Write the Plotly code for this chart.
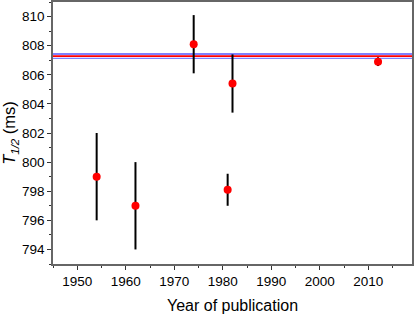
import plotly.graph_objects as go

years = [1954, 1962, 1974, 1981, 1982, 2012]
half_life = [799.0, 797.0, 808.1, 798.1, 805.4, 806.9]
errors = [3.0, 3.0, 2.0, 1.1, 2.0, 0.3]

mean_value = 807.28
band_upper = 807.43
band_lower = 807.13
x_span = [1945, 2019]

fig = go.Figure()

fig.add_trace(go.Scatter(x=x_span, y=[band_upper, band_upper], mode='lines',
                         line=dict(color='#7f7fff', width=2), hoverinfo='skip'))
fig.add_trace(go.Scatter(x=x_span, y=[band_lower, band_lower], mode='lines',
                         line=dict(color='#7f7fff', width=1.2), hoverinfo='skip'))
fig.add_trace(go.Scatter(x=x_span, y=[mean_value, mean_value], mode='lines',
                         line=dict(color='red', width=1.6), hoverinfo='skip'))

fig.add_trace(go.Scatter(
    x=years,
    y=half_life,
    mode='markers',
    marker=dict(color='red', size=8),
    error_y=dict(type='data', array=errors, color='black', thickness=2, width=0)
))

axis_style = dict(
    showline=True, linecolor='#666666', linewidth=1.5, mirror=True,
    ticks='outside', ticklen=4, tickcolor='#333333', tickwidth=1,
    showgrid=False, zeroline=False, automargin=False,
    tickfont=dict(family='Liberation Sans, Arial', size=13.5, color='black'),
)

fig.update_layout(
    width=415, height=314,
    margin=dict(l=53, r=3, t=2, b=50),
    plot_bgcolor='white',
    paper_bgcolor='white',
    showlegend=False,
    xaxis=dict(range=x_span, dtick=10, tick0=1950,
               minor=dict(ticks='outside', dtick=5, ticklen=2.5, tickcolor='#333333'),
               title=dict(text='Year of publication', standoff=12,
                          font=dict(family='Liberation Sans, Arial', size=16, color='black')),
               **axis_style),
    yaxis=dict(range=[793, 811], dtick=2, tick0=794,
               minor=dict(ticks='outside', dtick=1, ticklen=2.5, tickcolor='#333333'),
               title=dict(text='<i>T</i><sub><i>1/2</i></sub> (ms)', standoff=2,
                          font=dict(family='Liberation Sans, Arial', size=16.5, color='black')),
               **axis_style),
)

fig.write_html("out.html", config={'displayModeBar': False},
               post_script="document.body.style.margin='0';")
